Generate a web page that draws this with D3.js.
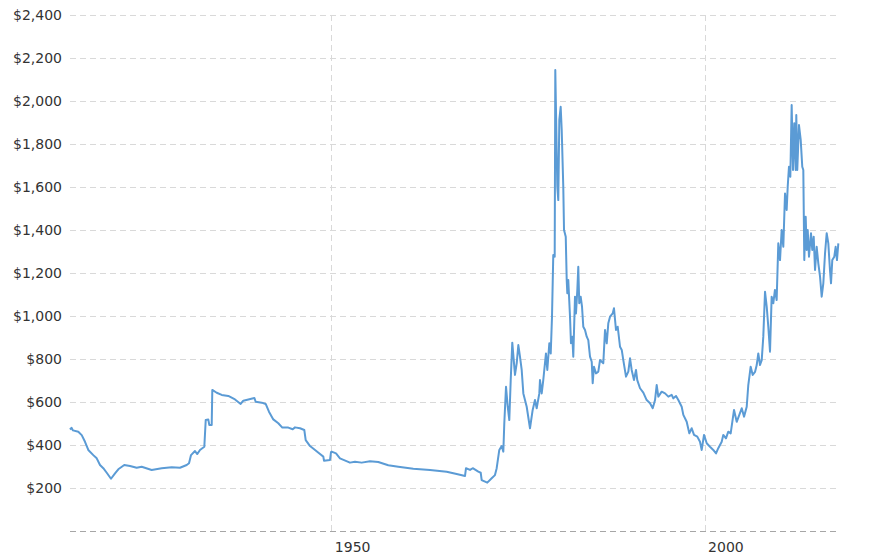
<!DOCTYPE html>
<html>
<head>
<meta charset="utf-8">
<script src="https://cdn.jsdelivr.net/npm/d3@7"></script>
<style>
  html, body { margin: 0; padding: 0; background: #fff; }
  svg { display: block; }
</style>
</head>
<body>
<svg id="chart" width="888" height="560"></svg>
<script>
// Inflation-adjusted gold price, decimal year vs. USD
const years = [
  1915.0, 1915.2, 1915.4, 1916.11, 1916.57, 1917.01, 1917.45, 1918.12, 1918.58, 1919.02,
  1919.46, 1919.92, 1920.49, 1921.03, 1921.47, 1922.27, 1923.04, 1923.93, 1924.6, 1925.94,
  1927.28, 1928.62, 1929.73, 1930.63, 1930.94, 1931.21, 1931.74, 1932.05, 1932.41, 1932.99,
  1933.18, 1933.52, 1933.66, 1933.98, 1934.06, 1934.65, 1935.32, 1936.2, 1937.1, 1937.86,
  1938.21, 1938.88, 1939.69, 1939.87, 1940.68, 1941.21, 1941.65, 1942.23, 1942.9, 1943.44,
  1944.24, 1944.83, 1945.14, 1945.81, 1946.38, 1946.57, 1947.15, 1947.82, 1948.49, 1948.93,
  1949.02, 1949.82, 1949.96,
  1950.05, 1950.63, 1951.16, 1952.5, 1953.17, 1954.07, 1955.18, 1956.29, 1957.63, 1958.97,
  1960.98, 1963.22, 1965.45, 1966.79, 1967.91, 1968.04, 1968.58, 1968.94, 1969.69, 1970.01,
  1970.14, 1970.89, 1971.48, 1971.92, 1972.15, 1972.5, 1972.82, 1973.04, 1973.17, 1973.4,
  1973.63, 1973.84, 1974.03, 1974.24, 1974.6, 1974.83, 1975.05, 1975.27, 1975.5, 1975.72,
  1976.17, 1976.61, 1976.97, 1977.28, 1977.51, 1977.86,
  1977.95, 1978.18, 1978.39, 1978.75, 1978.93, 1979.2, 1979.39, 1979.56, 1979.73, 1979.92,
  1980.0, 1980.27, 1980.4, 1980.54, 1980.72, 1980.86, 1981.07, 1981.17, 1981.4, 1981.53,
  1981.61, 1981.74, 1981.97, 1982.1, 1982.28, 1982.41, 1982.64, 1982.77, 1982.95, 1983.08,
  1983.21, 1983.4, 1983.58, 1983.75, 1983.98, 1984.21, 1984.42, 1984.65, 1984.88, 1985.01,
  1985.18, 1985.45, 1985.76, 1985.99, 1986.43, 1986.66, 1986.89, 1987.1, 1987.33, 1987.69,
  1987.86, 1988.13, 1988.36, 1988.67, 1988.9, 1989.11, 1989.47, 1989.78, 1990.01, 1990.23,
  1990.54, 1990.81, 1990.98, 1991.35, 1991.79, 1992.24, 1992.69, 1993.05, 1993.36, 1993.58,
  1993.8, 1994.25, 1994.7, 1995.14, 1995.59, 1995.81, 1996.17, 1996.48, 1996.93, 1997.15,
  1997.6, 1997.95, 1998.27, 1998.58, 1999.02, 1999.38, 1999.61, 1999.92, 2000.28, 2000.72,
  2001.16, 2001.53, 2001.83, 2002.29, 2002.5, 2002.86, 2003.17, 2003.49, 2003.94, 2004.3,
  2004.65, 2004.97, 2005.28, 2005.64, 2005.85, 2006.17, 2006.44,
  2006.75, 2006.98, 2007.19, 2007.42, 2007.65, 2007.86, 2008.09, 2008.32, 2008.53, 2008.76,
  2008.98, 2009.2, 2009.42, 2009.65, 2009.87, 2010.1, 2010.32, 2010.54, 2010.77, 2010.99,
  2011.13, 2011.3, 2011.48, 2011.66, 2011.84, 2012.01, 2012.2, 2012.28, 2012.41, 2012.64,
  2012.87, 2013.08, 2013.22, 2013.35, 2013.54, 2013.67, 2013.81, 2013.98, 2014.25, 2014.42,
  2014.61, 2014.79, 2015.01, 2015.23, 2015.46, 2015.68, 2015.9, 2016.13, 2016.35, 2016.57,
  2016.79, 2016.93, 2017.1, 2017.37, 2017.55, 2017.73, 2017.91
];
const prices = [
  472, 480, 468, 462, 446, 415, 377, 353, 338, 307,
  292, 271, 243, 268, 287, 307, 302, 294, 299, 284,
  292, 296, 294, 307, 315, 353, 372, 358, 377, 392,
  516, 519, 493, 493, 656, 643, 633, 628, 612, 591,
  606, 612, 619, 601, 597, 591, 555, 519, 501, 481,
  481, 473, 482, 478, 470, 423, 395, 377, 358, 346,
  327, 330, 367,
  369, 361, 338, 318, 322, 318, 324, 321, 306, 299,
  290, 284, 276, 265, 256, 292, 284, 292, 276, 271,
  237, 225, 245, 260, 292, 377, 395, 369, 501, 671,
  578, 516, 702, 876, 726, 780, 865, 811, 749, 640,
  578, 478, 563, 609, 571, 640,
  702, 640, 702, 826, 749, 873, 826, 997, 1284, 1276,
  2144, 1601, 1539, 1912, 1973, 1865, 1601, 1400, 1369, 1167,
  1106, 1167, 997, 873, 904, 811, 1090, 1012, 1121, 1229,
  1059, 1090, 1043, 950, 935, 904, 888, 811, 787, 687,
  764, 733, 741, 795, 780, 935, 873, 966, 997, 1012,
  1036, 935, 950, 857, 842, 795, 718, 741, 803, 749,
  702, 749, 702, 664, 644, 609, 594, 571, 609, 679,
  625, 648, 640, 625, 633, 617, 628, 609, 578, 540,
  508, 454, 478, 447, 439, 415, 377, 447, 408, 392,
  377, 361, 385, 415, 447, 431, 462, 454, 563, 508,
  540, 571, 532, 578, 679, 764, 726,
  740, 772, 826, 772, 795, 904, 1113, 1043, 950, 834,
  1090, 1059, 1121, 1074, 1338, 1260, 1400, 1322, 1570, 1493,
  1601, 1694, 1648, 1981, 1679, 1896, 1679, 1935, 1679, 1888,
  1819, 1694, 1679, 1260, 1462, 1307, 1400, 1276, 1385, 1307,
  1369, 1214, 1322, 1245, 1183, 1090, 1152, 1292, 1385, 1338,
  1214, 1152, 1260, 1276, 1322, 1260, 1338
];
const yTicks = [200, 400, 600, 800, 1000, 1200, 1400, 1600, 1800, 2000, 2200, 2400];
const xTicks = [1950, 2000];

const data = years.map((yr, i) => ({ year: yr, price: prices[i] }));

const svg = d3.select("#chart");
const plotLeft = 70, plotRight = 839, plotTop = 15, plotBottom = 531;
const FONT = "DejaVu Sans, Verdana, sans-serif";

const x = d3.scaleLinear().domain([1915, 2018]).range([plotLeft, plotRight]);
const y = d3.scaleLinear().domain([0, 2400]).range([plotBottom, plotTop]);

// Horizontal grid lines
svg.append("g").selectAll("line")
  .data(yTicks)
  .join("line")
  .attr("x1", plotLeft).attr("x2", plotRight)
  .attr("y1", d => Math.round(y(d)) + 0.5).attr("y2", d => Math.round(y(d)) + 0.5)
  .attr("stroke", "#d9d9d9").attr("stroke-width", 1)
  .attr("stroke-dasharray", "6,4");

// Vertical grid lines
svg.append("g").selectAll("line")
  .data(xTicks)
  .join("line")
  .attr("x1", d => Math.round(x(d)) + 0.5).attr("x2", d => Math.round(x(d)) + 0.5)
  .attr("y1", plotTop).attr("y2", plotBottom)
  .attr("stroke", "#d9d9d9").attr("stroke-width", 1)
  .attr("stroke-dasharray", "6,4");

// Baseline axis
svg.append("line")
  .attr("x1", plotLeft).attr("x2", plotRight)
  .attr("y1", Math.round(y(0)) + 0.5).attr("y2", Math.round(y(0)) + 0.5)
  .attr("stroke", "#a6a6a6").attr("stroke-width", 1)
  .attr("stroke-dasharray", "6,4");

// Y axis labels
const yAxis = d3.axisLeft(y).tickValues(yTicks).tickSize(0).tickPadding(8)
  .tickFormat(d => "$" + d3.format(",")(d));
const gy = svg.append("g").attr("transform", `translate(${plotLeft},0)`).call(yAxis);
gy.select(".domain").remove();
gy.selectAll("text").attr("font-family", FONT)
  .attr("font-size", 14).attr("fill", "#333");
gy.attr("font-family", FONT).attr("font-size", 14);

// X axis labels
const xAxis = d3.axisBottom(x).tickValues(xTicks).tickSize(0).tickPadding(0)
  .tickFormat(d3.format("d"));
const gx = svg.append("g").attr("transform", `translate(0,${plotBottom})`).call(xAxis);
gx.select(".domain").remove();
gx.attr("font-family", FONT).attr("font-size", 14);
gx.selectAll("text")
  .attr("text-anchor", "start")
  .attr("dx", 3)
  .attr("dy", 0)
  .attr("y", 21)
  .attr("font-family", FONT)
  .attr("font-size", 14).attr("fill", "#333");

// Price line
const line = d3.line().x(d => x(d.year)).y(d => y(d.price));
svg.append("path")
  .datum(data)
  .attr("fill", "none")
  .attr("stroke", "#5b9bd5")
  .attr("stroke-width", 2)
  .attr("stroke-linejoin", "round")
  .attr("d", line);
</script>
</body>
</html>
